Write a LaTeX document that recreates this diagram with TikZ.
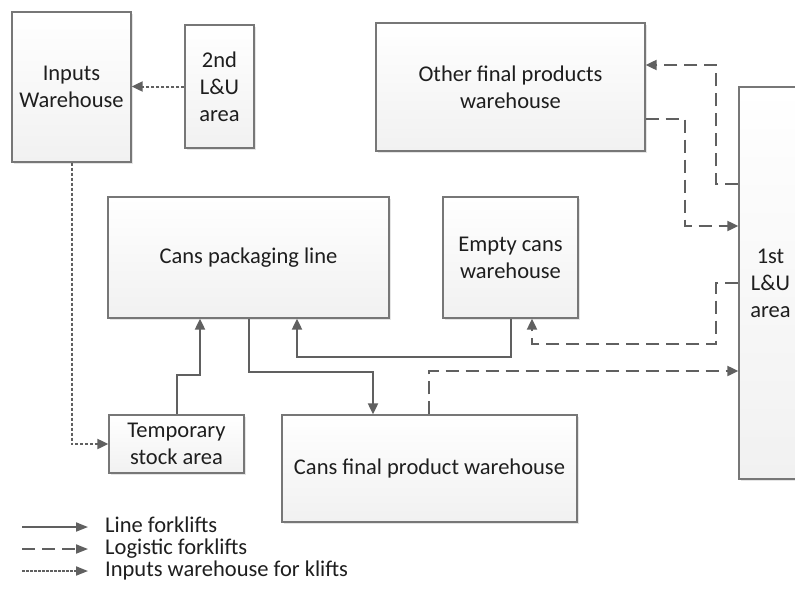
\documentclass[tikz,border=0pt]{standalone}
\usepackage{fontspec}
\setmainfont{Carlito}
\usetikzlibrary{arrows.meta,shadows}
\definecolor{boxline}{HTML}{777777}
\definecolor{boxbot}{HTML}{F1F1F1}
\definecolor{textc}{HTML}{1E1E1E}
\definecolor{linec}{HTML}{606060}
\tikzset{
  box/.style={draw=boxline, line width=1.3pt, top color=white, bottom color=boxbot,
    align=center, inner sep=0pt, text=textc,
    font=\fontsize{22.5}{27}\selectfont,
    drop shadow={shadow xshift=2pt, shadow yshift=-2pt, fill=black, opacity=0.10}},
  conn/.style={draw=linec, line width=2pt, -{Triangle[length=11pt,width=10pt]}},
  solidconn/.style={conn},
  dashconn/.style={conn, dash pattern=on 13pt off 7pt},
  dotconn/.style={conn, line width=2pt, dash pattern=on 3pt off 2pt},
  legtext/.style={anchor=west, inner sep=0pt, text=textc, font=\fontsize{22.5}{27}\selectfont,
    text height=16pt, text depth=5pt},
  legline/.style={draw=linec, line width=1.8pt, -{Triangle[length=12pt,width=9pt]}}
}
\begin{document}
\begin{tikzpicture}[x=1pt,y=-1pt]
\useasboundingbox (0,0) rectangle (795,592);
\clip (0,0) rectangle (795,592);
\fill[white] (0,0) rectangle (795,592);

% boxes
\node[box, minimum width=119pt, minimum height=150pt] (inw) at (71.5,87) {Inputs\\Warehouse};
\node[box, minimum width=69pt, minimum height=123pt] (l2) at (219.5,86.5) {2nd\\L\&U\\area};
\node[box, minimum width=269pt, minimum height=128pt] (of) at (510.5,87) {Other final products\\warehouse};
\node[box, minimum width=63pt, minimum height=392pt] (l1) at (770.5,283) {1st\\L\&U\\area};
\node[box, minimum width=281pt, minimum height=121pt] (pack) at (248.5,257.5) {Cans packaging line};
\node[box, minimum width=135pt, minimum height=121pt] (ec) at (510.5,257.5) {Empty cans\\warehouse};
\node[box, minimum width=135pt, minimum height=58pt] (tmp) at (176.5,444) {Temporary\\stock area};
\node[box, minimum width=295pt, minimum height=107pt] (cf) at (429.5,468.5) {Cans final product warehouse};

% dotted (inputs warehouse forklifts)
\draw[dotconn] (l2.west) -- (l2.west -| inw.east);
\draw[dotconn] (inw.south) |- (tmp.west);

% solid (line forklifts)
\draw[solidconn] (tmp.north) |- (200,375) -- (pack.south -| 200,0);
\draw[solidconn] (pack.south) |- (373,372) -- (cf.north -| 373,0);
\draw[solidconn] (ec.south) |- (297,357) -- (pack.south -| 297,0);

% dashed (logistic forklifts)
\draw[dashconn] (l1.west |- 0,283) -- (716,283) |- (532,344) -- (ec.south -| 532,0);
\draw[dashconn] (cf.north -| 429,0) |- (l1.west |- 0,371);
\draw[dashconn] (l1.west |- 0,184) -| (716,65) -- (of.east |- 0,65);
\draw[dashconn] (of.east |- 0,119) -| (685,226) -- (l1.west |- 0,226);

% legend
\node[legtext] (lg1) at (105,527) {Line forklifts};
\node[legtext] (lg2) at (105,549) {Logistic forklifts};
\node[legtext] (lg3) at (105,571) {Inputs warehouse for klifts};
\coordinate (ls1) at (22,527); \coordinate (le1) at (88,527);
\coordinate (ls2) at (22,549); \coordinate (le2) at (88,549);
\coordinate (ls3) at (22,571); \coordinate (le3) at (88,571);
\draw[legline] (ls1) -- (le1);
\draw[legline, dash pattern=on 13pt off 7pt] (ls2) -- (le2);
\draw[legline, dash pattern=on 2.5pt off 1.5pt] (ls3) -- (le3);
\end{tikzpicture}
\end{document}
